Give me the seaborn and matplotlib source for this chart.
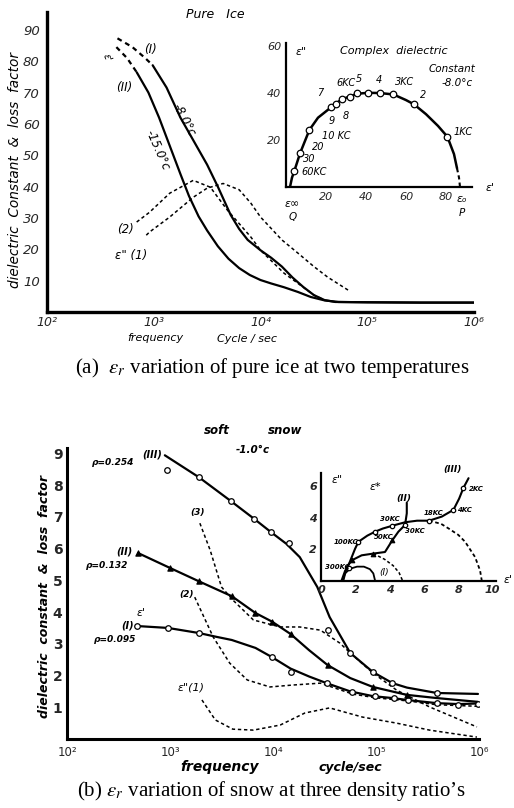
import numpy as np
import pandas as pd
import matplotlib
matplotlib.use("Agg")
import matplotlib.pyplot as plt
import seaborn as sns

sns.set_theme(style="white")
plt.rcParams["font.family"] = ["DejaVu Sans"]
plt.rcParams["mathtext.fontset"] = "stix"

W, H = 514, 808

# ---------------- (a) pure ice : x = log10(frequency) ----------------
ice8_dash_f = [2.66, 2.8, 2.92, 2.99]
ice8_dash_v = [87.3, 84.5, 81.0, 78.7]
ice8_f = [2.99, 3.12, 3.25, 3.37, 3.5, 3.6, 3.72, 3.8, 3.88, 4.0, 4.1, 4.2, 4.3, 4.4, 4.5, 4.6, 4.7, 5.0, 5.5, 6.0]
ice8_v = [78.7, 71.6, 62, 54.8, 47, 40, 31, 26.5, 23, 19.7, 17.3, 14.5, 11, 8, 5.4, 3.8, 3.2, 3.1, 3.0, 3.0]
ice15_dash_f = [2.65, 2.75, 2.84]
ice15_dash_v = [84.5, 81.0, 76.5]
ice15_f = [2.84, 2.95, 3.05, 3.15, 3.25, 3.33, 3.42, 3.5, 3.6, 3.7, 3.8, 3.9, 4.0, 4.1, 4.22, 4.35, 4.47, 4.6, 4.73, 5.0, 5.5, 6.0]
ice15_v = [76.5, 70, 62, 53, 44, 37, 30.5, 26, 21, 17, 14, 11.8, 10.2, 9.1, 7.9, 6.4, 4.8, 3.7, 3.2, 3.1, 3.0, 3.0]
loss1_f = [2.93, 2.96, 3.15, 3.37, 3.5, 3.65, 3.8, 3.91, 4.0, 4.2, 4.35, 4.5, 4.63, 4.82]
loss1_v = [24.5, 25.5, 30.3, 36.6, 39.5, 41.0, 39.0, 34.7, 30.3, 23.0, 18.8, 14.5, 11.1, 7.0]
loss2_f = [2.84, 2.96, 3.15, 3.37, 3.53, 3.69, 3.91, 4.0, 4.22, 4.5, 4.6]
loss2_v = [28.7, 31.8, 37.9, 42.0, 39.8, 32.5, 23.9, 19.7, 12.4, 5.4, 3.8]

# complex plane, -8.0 C
cole_x = [2.0, 3.0, 4.2, 7, 11.7, 16, 22.5, 27.8, 35.7, 41, 47, 53.7, 60, 64, 70, 76, 80.7, 84, 85.5]
cole_y = [0, 4, 6.9, 14.3, 24.3, 29.5, 33.9, 37.3, 39.7, 40.1, 40.0, 39.4, 37.0, 35.2, 31, 26, 21.4, 14, 8]
cole_dash_x = [85.5, 86.5, 87.0]
cole_dash_y = [8, 4, 0]
cole_pt_x = [4.2, 7, 11.7, 22.5, 25, 27.8, 32, 35.7, 41.2, 47, 53.7, 64, 80.7]
cole_pt_y = [6.9, 14.3, 24.3, 33.9, 35.3, 37.3, 38.4, 39.9, 40.1, 39.9, 39.4, 35.2, 21.4]

# ---------------- (b) soft snow ----------------
s3_f = [2.95, 3.28, 3.59, 3.82, 3.98, 4.13, 4.26, 4.43, 4.55, 4.75, 4.97, 5.16, 5.3, 5.59, 5.99]
s3_v = [8.94, 8.25, 7.5, 6.93, 6.52, 6.15, 5.73, 4.79, 3.84, 2.71, 2.11, 1.76, 1.62, 1.45, 1.42]
s3_pf = [3.28, 3.59, 3.82, 3.98, 4.75, 4.97, 5.16, 5.59, 2.97, 4.16, 4.53]
s3_pv = [8.25, 7.5, 6.93, 6.52, 2.71, 2.11, 1.76, 1.45, 8.47, 6.17, 3.43]
s2_f = [2.69, 3.0, 3.28, 3.6, 3.83, 3.99, 4.17, 4.35, 4.53, 4.75, 4.97, 5.3, 5.59, 5.99]
s2_v = [5.86, 5.39, 4.97, 4.5, 3.97, 3.7, 3.31, 2.8, 2.33, 1.92, 1.64, 1.39, 1.29, 1.17]
s2_pf = [2.69, 3.0, 3.28, 3.6, 3.83, 3.99, 4.17, 4.53, 4.97, 5.3]
s2_pv = [5.86, 5.39, 4.97, 4.5, 3.97, 3.7, 3.31, 2.33, 1.64, 1.39]
s1_f = [2.68, 2.98, 3.28, 3.45, 3.6, 3.83, 3.99, 4.17, 4.35, 4.52, 4.75, 4.97, 5.16, 5.3, 5.59, 5.8, 5.99]
s1_v = [3.56, 3.5, 3.34, 3.22, 3.12, 2.87, 2.58, 2.22, 1.97, 1.76, 1.5, 1.35, 1.29, 1.23, 1.13, 1.1, 1.12]
s1_pf = [2.68, 2.98, 3.28, 3.99, 4.52, 4.77, 4.99, 5.17, 5.31, 5.59, 5.8, 5.99, 4.17]
s1_pv = [3.56, 3.5, 3.34, 2.58, 1.76, 1.47, 1.35, 1.29, 1.24, 1.12, 1.08, 1.1, 2.1]
d3_f = [3.29, 3.39, 3.5, 3.61, 3.81, 4.07, 4.26, 4.46, 4.65, 4.75, 4.97, 5.2, 5.52, 5.98]
d3_v = [6.8, 5.95, 4.79, 4.38, 3.75, 3.53, 3.53, 3.43, 3.02, 2.71, 2.08, 1.54, 1.01, 0.38]
d2_f = [3.24, 3.42, 3.58, 3.75, 3.97, 4.19, 4.46, 4.77, 4.99, 5.31, 5.59, 5.99]
d2_v = [4.47, 3.21, 2.39, 1.86, 1.64, 1.7, 1.76, 1.42, 1.3, 1.2, 1.08, 1.03]
d1_f = [3.31, 3.44, 3.61, 3.81, 4.07, 4.31, 4.55, 4.87, 5.2, 5.52, 5.98]
d1_v = [1.23, 0.6, 0.31, 0.28, 0.44, 0.82, 0.98, 0.69, 0.5, 0.28, 0.06]

# complex plane of snow
c3_x = [1.2, 1.4, 1.65, 1.98, 2.18, 2.7, 3.15, 3.6, 4.16, 4.9, 5.6, 6.3, 7.04, 7.72, 8.05, 8.3, 8.6]
c3_y = [0, 0.6, 1.1, 2.0, 2.46, 2.85, 3.1, 3.3, 3.48, 3.7, 3.8, 3.8, 4.06, 4.49, 5.2, 5.88, 6.5]
c3_dash_x = [6.3, 7.0, 7.43, 8.0, 8.4, 8.98, 9.27, 9.37]
c3_dash_y = [3.8, 3.6, 3.31, 2.9, 2.46, 1.49, 0.64, 0]
c3_pt_x = [1.65, 2.18, 3.15, 4.16, 6.3, 7.72, 8.3]
c3_pt_y = [0.8, 2.46, 3.1, 3.48, 3.8, 4.49, 5.88]
c2_x = [1.3, 1.5, 1.79, 2.37, 3.05, 3.73, 4.16, 4.51, 4.9, 5.0, 5.0]
c2_y = [0, 0.85, 1.28, 1.6, 1.71, 1.81, 2.56, 3.1, 3.53, 4.27, 4.95]
c2_dash_x = [3.05, 3.7, 4.2, 4.55, 4.75]
c2_dash_y = [1.71, 1.35, 0.95, 0.5, 0]
c2_pt_x = [1.79, 3.05, 4.16]
c2_pt_y = [1.28, 1.71, 2.56]
c1_x = [1.25, 1.4, 1.7, 2.1, 2.5, 2.85, 3.05, 3.15]
c1_y = [0, 0.45, 0.75, 0.88, 0.88, 0.72, 0.45, 0]

decades = [2, 3, 4, 5, 6]
decade_labels = ["10²", "10³", "10⁴", "10⁵", "10⁶"]


fig = plt.figure(figsize=(W / 100, H / 100), dpi=100)
fig.patch.set_facecolor("white")


def axes_px(left, top, right, bottom):
    return fig.add_axes([left / W, 1 - bottom / H, (right - left) / W, (bottom - top) / H])


def txt(x, y, s, size=8, **kw):
    kw.setdefault("style", "italic")
    kw.setdefault("ha", "center")
    kw.setdefault("va", "center")
    fig.text(x / W, 1 - y / H, s, fontsize=size, color="black", **kw)


def line(ax, x, y, lw=1.6, ls="-"):
    sns.lineplot(x=x, y=y, ax=ax, color="black", linewidth=lw, linestyle=ls,
                 sort=False, estimator=None, legend=False)


def dots(ax, x, y, marker="o", s=16, fill="white"):
    sns.scatterplot(x=x, y=y, ax=ax, marker=marker, s=s, color=fill,
                    edgecolor="black", linewidth=0.9, zorder=5, legend=False)


def style_axes(ax, spine_w=2.0):
    ax.set_facecolor("none")
    for side in ["top", "right"]:
        ax.spines[side].set_visible(False)
    for side in ["left", "bottom"]:
        ax.spines[side].set_color("black")
        ax.spines[side].set_linewidth(spine_w)
    ax.grid(False)
    ax.set_xlabel("")
    ax.set_ylabel("")


DASH = (0, (2.2, 1.8))

# ---------- panel (a) ----------
ax1 = axes_px(47, 12, 474, 312)
line(ax1, ice8_dash_f, ice8_dash_v, ls=DASH)
line(ax1, ice8_f, ice8_v)
line(ax1, ice15_dash_f, ice15_dash_v, ls=DASH)
line(ax1, ice15_f, ice15_v)
line(ax1, loss1_f, loss1_v, lw=1.1, ls=DASH)
line(ax1, loss2_f, loss2_v, lw=1.1, ls=DASH)
style_axes(ax1, 2.4)
ax1.set_xlim(2, 6)
ax1.set_ylim(0, 95.7)
ax1.set_xticks(decades)
ax1.set_xticklabels(decade_labels)
ax1.set_yticks([10, 20, 30, 40, 50, 60, 70, 80, 90])
ax1.tick_params(axis="x", length=2.5, width=1.5, direction="inout", pad=1.5, labelsize=9)
ax1.tick_params(axis="y", length=2.5, width=1.5, direction="inout", pad=4, labelsize=9.5)
for lab in ax1.get_xticklabels() + ax1.get_yticklabels():
    lab.set_style("italic")

ax1i = axes_px(286, 43, 472, 187)
line(ax1i, cole_x, cole_y, lw=1.8)
line(ax1i, cole_dash_x, cole_dash_y, lw=1.5, ls=(0, (2, 1.5)))
dots(ax1i, cole_pt_x, cole_pt_y, s=22)
style_axes(ax1i, 1.6)
ax1i.set_xlim(0, 93)
ax1i.set_ylim(0, 61.3)
ax1i.set_xticks([20, 40, 60, 80])
ax1i.set_yticks([20, 40, 60])
ax1i.tick_params(length=2.5, width=1.5, direction="inout", pad=2, labelsize=8)
for lab in ax1i.get_xticklabels() + ax1i.get_yticklabels():
    lab.set_style("italic")

txt(215, 15, "Pure   Ice", 9)
txt(15, 170, "dielectric  Constant  &  loss  factor", 9.8, rotation=90)
txt(150, 49, "(I)", 8.5)
txt(107, 58, "ε'", 7, rotation=-70)
txt(124, 87, "(II)", 8.5)
txt(184, 120, "-8.0°c", 8.5, rotation=-62)
txt(157, 150, "-15.0°c", 8.5, rotation=-66)
txt(125, 230, "(2)", 8.5)
txt(131, 255, "ε\" (1)", 8.5)
txt(155, 338, "frequency", 8)
txt(247, 339, "Cycle / sec", 8)

txt(301, 52, "ε\"", 8)
txt(394, 51, "Complex  dielectric", 8)
txt(452, 69, "Constant", 7.5)
txt(457, 83, "-8.0°c", 7.5)
txt(490, 188, "ε'", 8)
txt(292, 204, "ε∞", 8)
txt(293, 217, "Q", 7.5)
txt(462, 199, "εₒ", 8)
txt(462, 213, "P", 7.5)
for (x, y, s) in [(314, 172, "60KC"), (309, 159, "30"), (318, 147, "20"), (336, 136, "10 KC"),
                  (332, 121, "9"), (346, 116, "8"), (320, 93, "7"), (346, 83, "6KC"),
                  (359, 79, "5"), (379, 80, "4"), (405, 82, "3KC"), (423, 95, "2"), (463, 132, "1KC")]:
    txt(x, y, s, 7)

txt(272, 368, r"(a)  $\varepsilon_r$ variation of pure ice at two temperatures", 15,
    style="normal", family="Liberation Serif")

# ---------- panel (b) ----------
ax2 = axes_px(67, 448, 479, 739)
line(ax2, s3_f, s3_v)
line(ax2, s2_f, s2_v)
line(ax2, s1_f, s1_v)
line(ax2, d3_f, d3_v, lw=1.1, ls=DASH)
line(ax2, d2_f, d2_v, lw=1.1, ls=DASH)
line(ax2, d1_f, d1_v, lw=1.1, ls=DASH)
dots(ax2, s3_pf, s3_pv, s=16)
dots(ax2, s1_pf, s1_pv, s=16)
dots(ax2, s2_pf, s2_pv, marker="^", s=14, fill="black")
style_axes(ax2, 2.2)
ax2.set_xlim(2, 6)
ax2.set_ylim(0, 9.17)
ax2.set_xticks(decades)
ax2.set_xticklabels(decade_labels)
ax2.set_yticks([1, 2, 3, 4, 5, 6, 7, 8, 9])
ax2.tick_params(axis="x", length=2.5, width=1.5, direction="inout", pad=4, labelsize=8.5)
ax2.tick_params(axis="y", length=2.5, width=1.5, direction="inout", pad=2, labelsize=10)
for lab in ax2.get_yticklabels():
    lab.set_fontweight("bold")

ax2i = axes_px(321, 473, 496, 580.5)
line(ax2i, c3_x, c3_y, lw=1.5)
line(ax2i, c3_dash_x, c3_dash_y, lw=1.3, ls=(0, (2, 1.5)))
line(ax2i, c2_x, c2_y, lw=1.5)
line(ax2i, c2_dash_x, c2_dash_y, lw=1.1, ls=(0, (2, 1.5)))
line(ax2i, c1_x, c1_y, lw=1.3)
dots(ax2i, c3_pt_x, c3_pt_y, s=10)
dots(ax2i, [4.9], [3.53], s=10)
dots(ax2i, c2_pt_x, c2_pt_y, marker="^", s=10, fill="black")
style_axes(ax2i, 1.6)
ax2i.set_xlim(0, 10.2)
ax2i.set_ylim(0, 6.83)
ax2i.set_xticks([0, 2, 4, 6, 8, 10])
ax2i.set_yticks([2, 4, 6])
ax2i.tick_params(length=2, width=1.2, direction="inout", pad=2, labelsize=8)
for lab in ax2i.get_xticklabels() + ax2i.get_yticklabels():
    lab.set_style("italic")
    lab.set_fontweight("bold")

txt(217, 430, "soft", 8.5, weight="bold")
txt(285, 430, "snow", 8.5, weight="bold")
txt(253, 450, "-1.0°c", 7.5, weight="bold")
txt(45, 597, "dielectric  constant  &  loss  factor", 9, rotation=90, weight="bold")
txt(152, 455, "(III)", 7, weight="bold")
txt(113, 463, "ρ=0.254", 6.5, weight="bold")
txt(198, 513, "(3)", 6.5, weight="bold")
txt(124, 552, "(II)", 7, weight="bold")
txt(107, 565, "ρ=0.132", 6.5, weight="bold")
txt(187, 595, "(2)", 6.5, weight="bold")
txt(141, 613, "ε'", 8)
txt(128, 626, "(I)", 7, weight="bold")
txt(115, 640, "ρ=0.095", 6.5, weight="bold")
txt(191, 687, "ε\"(1)", 8)
txt(220, 767, "frequency", 10, weight="bold")
txt(350, 767, "cycle/sec", 9, weight="bold")

txt(337, 480, "ε\"", 8)
txt(375, 487, "ε*", 8)
txt(508, 580, "ε'", 8)
txt(452, 470, "(III)", 6.5, weight="bold")
txt(404, 498, "(II)", 6.5, weight="bold")
txt(384, 572, "(I)", 6.5)
for (x, y, s) in [(476, 489, "2KC"), (464, 510, "4KC"), (434, 513, "18KC"), (390, 519, "30KC"),
                  (415, 531, "30KC"), (384, 537, "50KC"), (346, 542, "100KC"), (337, 567, "300KC")]:
    txt(x, y, s, 5, weight="bold")

txt(272, 791, r"(b) $\varepsilon_r$ variation of snow at three density ratio’s", 15,
    style="normal", family="Liberation Serif")

fig.savefig("out.png", dpi=100, facecolor="white")
